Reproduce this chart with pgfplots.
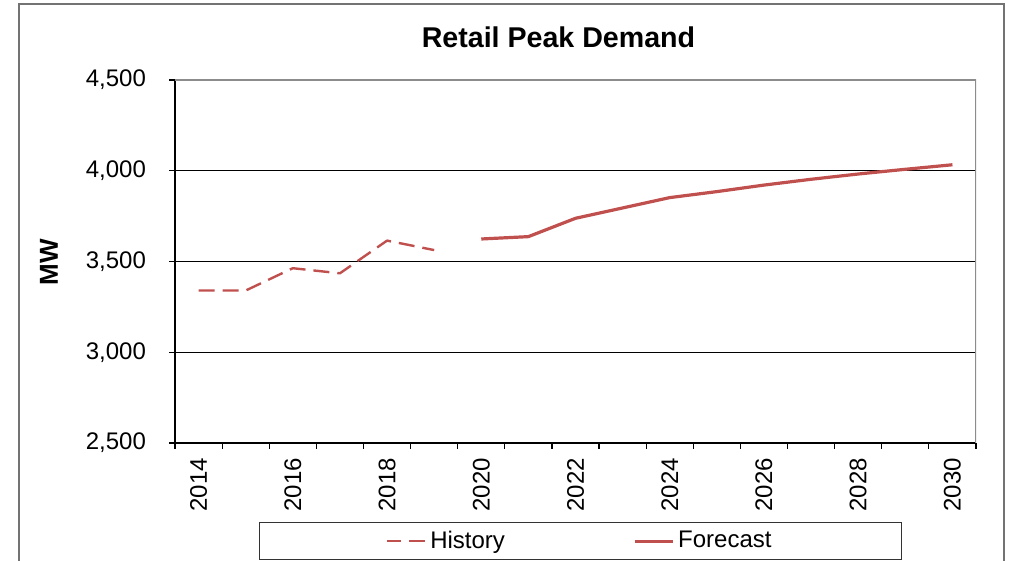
\documentclass[border=0pt]{standalone}
\usepackage{pgfplots}
\pgfplotsset{compat=1.18}
\usepackage{fontspec}
\setmainfont{Liberation Sans}
\definecolor{exred}{HTML}{C0504D}
\begin{document}
\begin{tikzpicture}[x=1pt,y=1pt]
\useasboundingbox (0,0) rectangle (509,280.5);
\draw[black!55, line width=0.6pt] (9.5,0) -- (9.5,278.5) -- (502,278.5) -- (502,0);
\begin{axis}[
  at={(87.5pt,59pt)}, anchor=south west,
  scale only axis, width=400.5pt, height=181.5pt,
  xmin=-0.5, xmax=16.5, ymin=2500, ymax=4500,
  axis x line*=bottom, axis y line*=left,
  axis line style={black, line width=0.6pt},
  ytick={2500,3000,3500,4000,4500},
  yticklabels={{2,500},{3,000},{3,500},{4,000},{4,500}},
  ymajorgrids, major grid style={black, line width=0.5pt},
  tick align=outside, major tick length=3pt, minor tick length=3pt,
  tick style={black, line width=0.6pt},
  xtick={0,2,4,6,8,10,12,14,16},
  xticklabels={2014,2016,2018,2020,2022,2024,2026,2028,2030},
  minor xtick={-0.5,0.5,...,16.5},
  major x tick style={draw=none},
  tick label style={font=\fontsize{12}{14}\selectfont},
  yticklabel style={xshift=-8pt},
  xticklabel style={rotate=90, anchor=east, xshift=-1pt},
  legend style={at={(0.5065,-0.2176)}, anchor=north, legend columns=2,
    draw=black!80, line width=0.6pt, font=\fontsize{12}{14}\selectfont,
    inner xsep=63pt, inner ysep=2.2pt,
    /tikz/every even column/.append style={column sep=62pt}},
  legend image code/.code={\draw[#1, dash phase=1pt] (0pt,0pt) -- (19pt,0pt);},
]
\addplot[exred, line width=1.2pt, dash pattern=on 8pt off 4pt, line join=round] coordinates {
(0,3340) (1,3340) (2,3463) (3,3435) (4,3615) (5,3563)};
\addlegendentry{History}
\addplot[exred, line width=1.6pt, line join=round] coordinates {
(6,3624) (7,3637) (8,3738) (9,3795) (10,3852) (11,3885) (12,3921) (13,3953) (14,3982) (15,4008) (16,4033)};
\addlegendentry{Forecast}
\draw[black!45, line width=0.6pt] (rel axis cs:0,1) -- (rel axis cs:1,1) -- (rel axis cs:1,0);
\end{axis}
\node[font=\bfseries\fontsize{14.3}{17}\selectfont] at (279.25,262) {Retail Peak Demand};
\node[font=\bfseries\fontsize{13}{15}\selectfont, rotate=90] at (24.5,149.5) {MW};
\end{tikzpicture}
\end{document}
